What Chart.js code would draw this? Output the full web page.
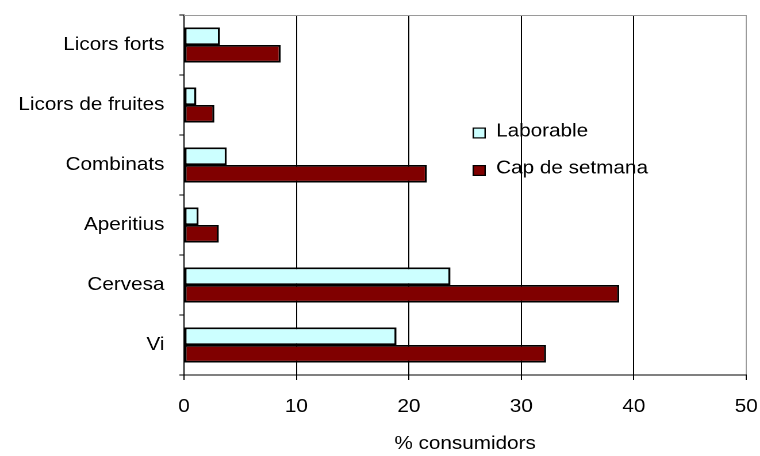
<!DOCTYPE html>
<html>
<head>
<meta charset="utf-8">
<script src="https://cdn.jsdelivr.net/npm/chart.js@4/dist/chart.umd.min.js"></script>
<style>
  html, body { margin: 0; padding: 0; background: #fff; overflow: hidden; }
  /* The chart is laid out 661px wide and widened to 760px, giving the broad lettering */
  #stage { position: absolute; left: 0; top: 0; width: 661px; height: 456px;
           transform: scale(1.1498, 1); transform-origin: 0 0; }
</style>
</head>
<body>
<div id="stage"><canvas id="chart" width="661" height="456"></canvas></div>
<script>
const categories = ['Licors forts', 'Licors de fruites', 'Combinats', 'Aperitius', 'Cervesa', 'Vi'];
const seriesNames = ['Laborable', 'Cap de setmana'];
const laborable = [3.2, 1.1, 3.8, 1.3, 23.7, 18.9];
const capDeSetmana = [8.6, 2.7, 21.6, 3.1, 38.7, 32.2];
const xTicks = [0, 10, 20, 30, 40, 50];
const axisTitle = '% consumidors';

const FONT = { family: "'Liberation Sans', Arial, sans-serif", size: 18 };

// Legend box drawn inside the plot, to the right of the short bars
const boxLegend = {
  id: 'boxLegend',
  afterDraw(chart, args, opts) {
    const ctx = chart.ctx;
    ctx.save();
    ctx.font = `${FONT.size}px ${FONT.family}`;
    ctx.textAlign = 'left';
    ctx.textBaseline = 'alphabetic';
    chart.data.datasets.forEach((ds, i) => {
      const top = opts.rowTops[i];
      ctx.fillStyle = ds.backgroundColor;
      ctx.fillRect(opts.x, top, opts.box, opts.boxH);
      ctx.lineWidth = 1.2;
      ctx.strokeStyle = '#000';
      ctx.strokeRect(opts.x + 0.6, top + 0.6, opts.box - 1.2, opts.boxH - 1.2);
      ctx.fillStyle = '#000';
      ctx.fillText(ds.label, opts.textX, opts.baselines[i]);
    });
    ctx.restore();
  }
};

// Grey frame line along the top of the plot
const plotFrame = {
  id: 'plotFrame',
  afterDraw(chart) {
    const { ctx, chartArea: a } = chart;
    ctx.save();
    ctx.strokeStyle = '#9a9a9a';
    ctx.lineWidth = 1;
    ctx.beginPath();
    ctx.moveTo(a.left, Math.round(a.top) + 0.5);
    ctx.lineTo(a.right, Math.round(a.top) + 0.5);
    ctx.stroke();
    ctx.restore();
  }
};

function noEdgePadding(scale) {
  scale.paddingLeft = 0;
  scale.paddingRight = 0;
  scale.paddingTop = 0;
  scale.paddingBottom = 0;
}

new Chart(document.getElementById('chart'), {
  type: 'bar',
  data: {
    labels: categories,
    datasets: [
      { label: seriesNames[0], data: laborable, backgroundColor: '#ccffff',
        borderColor: '#000', borderWidth: 1.8, borderSkipped: false },
      { label: seriesNames[1], data: capDeSetmana, backgroundColor: '#800000',
        borderColor: '#000', borderWidth: 1.8, borderSkipped: false }
    ]
  },
  options: {
    indexAxis: 'y',
    responsive: false,
    animation: false,
    devicePixelRatio: 2,
    layout: { padding: { left: 0, top: 15, right: 12, bottom: 0 } },
    datasets: { bar: { categoryPercentage: 0.585, barPercentage: 1 } },
    plugins: {
      legend: { display: false },
      tooltip: { enabled: false },
      boxLegend: { x: 411, box: 11.5, boxH: 11, textX: 431.5,
                   rowTops: [127.5, 165], baselines: [136.5, 173.5] }
    },
    scales: {
      x: {
        min: 0, max: 50,
        afterFit(scale) { scale.height = 81; noEdgePadding(scale); },
        afterBuildTicks(scale) { scale.ticks = xTicks.map(v => ({ value: v })); },
        ticks: { font: FONT, color: '#000', padding: 16, maxRotation: 0 },
        grid: {
          color: c => (c.tick && c.tick.value === 50) ? '#9a9a9a' : '#000',
          lineWidth: 1, drawTicks: true, tickLength: 5, tickColor: '#000'
        },
        border: { display: true, color: '#000', width: 1 },
        title: { display: true, text: axisTitle, font: FONT, color: '#000',
                 padding: { top: 0, bottom: 1 } }
      },
      y: {
        afterFit(scale) { scale.width = 160; noEdgePadding(scale); },
        ticks: { font: FONT, color: '#000', padding: 13 },
        grid: { drawOnChartArea: false, drawTicks: true, tickLength: 4,
                color: '#000', tickColor: '#000', offset: true },
        border: { display: true, color: '#000', width: 1 }
      }
    }
  },
  plugins: [boxLegend, plotFrame]
});
</script>
</body>
</html>
